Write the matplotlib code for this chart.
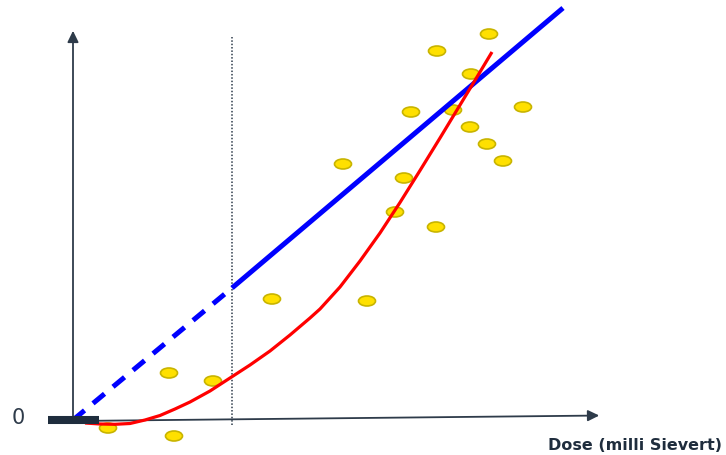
import matplotlib
matplotlib.use("Agg")
import matplotlib.pyplot as plt
from matplotlib.patches import Ellipse, FancyArrowPatch

# 观测点（剂量, 效应）
dose_pts = [3.5, 10.1, 9.6, 14.0, 19.9, 29.4, 27.0, 33.1, 32.2, 36.3,
            33.8, 36.4, 41.6, 39.8, 38.0, 39.7, 41.4, 43.0, 45.0]
effect_pts = [-0.8, -1.6, 4.7, 3.9, 12.1, 11.9, 25.6, 24.2, 20.8, 19.3,
              30.8, 36.9, 38.6, 34.6, 31.0, 29.3, 27.6, 25.9, 31.3]

# 线性无阈（LNT）模型：虚线外推段 + 实线段
lnt_dash_x = [0.0, 15.9]
lnt_dash_y = [0.0, 13.2]
lnt_solid_x = [15.9, 49.0]
lnt_solid_y = [13.2, 41.2]

# 非线性（红色）曲线
curve_x = [1.2, 2.7, 4.2, 5.7, 7.2, 8.7, 10.2, 11.7, 13.7, 15.7, 17.7, 19.7,
           21.7, 23.7, 24.7, 26.7, 28.7, 30.7, 32.7, 34.7, 36.7, 38.7, 40.4, 41.9]
curve_y = [-0.3, -0.4, -0.43, -0.35, 0.0, 0.45, 1.1, 1.8, 2.9, 4.2, 5.5, 6.9,
           8.5, 10.2, 11.1, 13.3, 15.9, 18.7, 21.75, 24.95, 28.2, 31.5, 34.3, 36.8]

threshold_x = 15.9
C_AX = "#2e3b4a"

fig = plt.figure(figsize=(7.26, 4.55), dpi=100)
ax = fig.add_axes([0, 0, 1, 1])
ax.set_xlim(-7.3, 65.3)
ax.set_ylim(-3.5, 42.0)
ax.axis("off")

# 坐标轴箭头
ax.add_patch(FancyArrowPatch((0, 0), (0, 39.2), arrowstyle="-|>,head_length=4.5,head_width=2.2",
                             color=C_AX, lw=1.3, mutation_scale=1.5, zorder=2))
ax.add_patch(FancyArrowPatch((0, -0.1), (52.9, 0.45), arrowstyle="-|>,head_length=4.5,head_width=2.2",
                             color=C_AX, lw=1.3, mutation_scale=1.5, zorder=2))

# 阈值竖直点线
ax.plot([threshold_x, threshold_x], [-0.5, 38.3], ls=(0, (1, 1.2)), color=C_AX, lw=1.1, zorder=2)

# 观测点
for x, y in zip(dose_pts, effect_pts):
    ax.add_patch(Ellipse((x, y), 1.7, 1.0, facecolor="#ffe000", edgecolor="#c8b400",
                         lw=1.2, zorder=3))

ax.plot(lnt_dash_x, lnt_dash_y, color="#0000ff", lw=3.6, ls=(0, (3, 2.2)), zorder=4,
        solid_capstyle="butt", dash_capstyle="butt")
ax.plot(lnt_solid_x, lnt_solid_y, color="#0000ff", lw=3.6, zorder=4, solid_capstyle="butt")
ax.plot(curve_x, curve_y, color="#ff0000", lw=2.3, zorder=5, solid_capstyle="butt",
        solid_joinstyle="round")

# 原点处粗黑条
ax.plot([-2.5, 2.6], [0.0, 0.0], color="#1f2d3d", lw=5.8, solid_capstyle="butt", zorder=6)

ax.text(-5.5, 0.2, "0", fontsize=15, color=C_AX, ha="center", va="center")
ax.text(64.9, -2.5, "Dose (milli Sievert)", fontsize=11.5, weight="bold",
        color="#1f2d3d", ha="right", va="center")

fig.savefig("out.png", dpi=100, facecolor="white")
